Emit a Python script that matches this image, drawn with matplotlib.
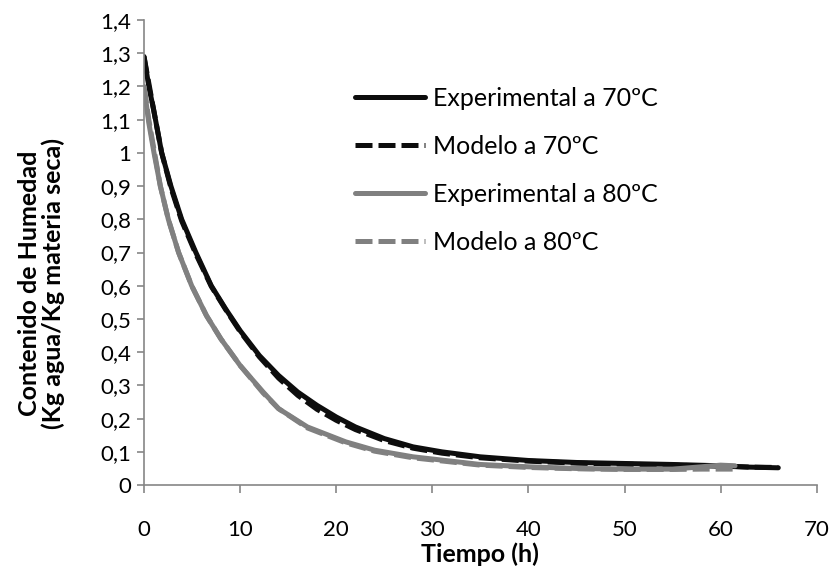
import matplotlib
matplotlib.use("Agg")
import matplotlib.pyplot as plt
from matplotlib.ticker import FuncFormatter, MultipleLocator

plt.rcParams["font.family"] = ["Lato", "DejaVu Sans"]

# Data
t_exp70 = [0, 0.5, 1, 1.84, 2.8, 3.92, 5.4, 7.0, 8.5, 10, 12, 14, 16, 18, 20, 22, 25, 28, 31, 35, 40, 45, 50, 55, 60, 63, 66]
x_exp70 = [1.29, 1.20, 1.13, 1.00, 0.90, 0.80, 0.70, 0.60, 0.53, 0.465, 0.39, 0.33, 0.28, 0.24, 0.205, 0.175, 0.14, 0.115, 0.10, 0.085, 0.074, 0.068, 0.065, 0.062, 0.058, 0.054, 0.052]
t_mod70 = [0, 0.5, 1, 1.84, 2.8, 3.92, 5.4, 7.0, 8.5, 10, 12, 14, 16, 18, 20, 22, 25, 28, 31, 35, 40, 45, 50, 55, 60, 63, 66]
x_mod70 = [1.29, 1.21, 1.13, 1.00, 0.895, 0.795, 0.695, 0.598, 0.528, 0.462, 0.386, 0.322, 0.27, 0.228, 0.195, 0.167, 0.134, 0.111, 0.096, 0.082, 0.072, 0.066, 0.063, 0.06, 0.057, 0.054, 0.053]

t_exp80 = [0, 0.5, 1.04, 1.7, 2.53, 3.6, 4.96, 6.5, 8, 10, 12.4, 14, 17, 21, 24, 28, 35, 40, 45, 50, 55, 58, 60, 61.5]
x_exp80 = [1.20, 1.09, 1.00, 0.90, 0.80, 0.70, 0.60, 0.51, 0.44, 0.36, 0.28, 0.23, 0.175, 0.13, 0.105, 0.085, 0.062, 0.055, 0.050, 0.048, 0.048, 0.055, 0.060, 0.058]
t_mod80 = [0, 0.5, 1.04, 1.7, 2.53, 3.6, 4.96, 6.5, 8, 10, 12.4, 14, 17, 21, 24, 28, 35, 40, 45, 50, 55, 58, 60, 61.5]
x_mod80 = [1.20, 1.10, 1.01, 0.90, 0.80, 0.70, 0.60, 0.51, 0.44, 0.36, 0.277, 0.23, 0.172, 0.127, 0.102, 0.082, 0.06, 0.053, 0.049, 0.047, 0.047, 0.048, 0.048, 0.048]

labels = ["Experimental a 70ºC", "Modelo a 70ºC", "Experimental a 80ºC", "Modelo a 80ºC"]

black = "#0d0d0d"
gray = "#808080"
axis_col = "#868686"
dash = (0, (3.4, 1.2))
lw = 3.6

fig = plt.figure(figsize=(8.3, 5.7), dpi=100)
ax = fig.add_axes([0.1735, 0.149, 0.8105, 0.816])

ax.plot(t_exp70, x_exp70, color=black, lw=lw, solid_capstyle="round", label=labels[0])
ax.plot(t_mod70, x_mod70, color=black, lw=lw, linestyle=dash, label=labels[1])
ax.plot(t_exp80, x_exp80, color=gray, lw=lw, solid_capstyle="round", label=labels[2])
ax.plot(t_mod80, x_mod80, color=gray, lw=lw, linestyle=dash, label=labels[3])

ax.set_xlim(0, 70)
ax.set_ylim(0, 1.4)
ax.xaxis.set_major_locator(MultipleLocator(10))
ax.yaxis.set_major_locator(MultipleLocator(0.1))


def comma_fmt(v, pos):
    s = f"{v:.1f}".replace(".", ",")
    if s.endswith(",0"):
        s = s[:-2]
    return s


ax.yaxis.set_major_formatter(FuncFormatter(comma_fmt))

for side in ["top", "right"]:
    ax.spines[side].set_visible(False)
for side in ["left", "bottom"]:
    ax.spines[side].set_color(axis_col)
    ax.spines[side].set_linewidth(1.2)

ax.tick_params(axis="y", direction="out", length=5, width=1.2, color=axis_col,
               labelsize=16, pad=4)
ax.tick_params(axis="x", direction="out", length=6, width=1.2, color=axis_col,
               labelsize=16, pad=19)

ax.set_xlabel("Tiempo (h)", fontsize=18, fontweight="bold", labelpad=2)
ax.set_ylabel("Contenido de Humedad\n(Kg agua/Kg materia seca)", fontsize=18,
              fontweight="bold", linespacing=1.05)
ax.yaxis.set_label_coords(-0.117, 0.434)

ax.legend(loc="upper left", bbox_to_anchor=(0.299, 0.877), frameon=False,
          fontsize=18, handlelength=2.8, handletextpad=0.3, labelspacing=1.0,
          borderaxespad=0)

fig.savefig("out.png", dpi=100)
